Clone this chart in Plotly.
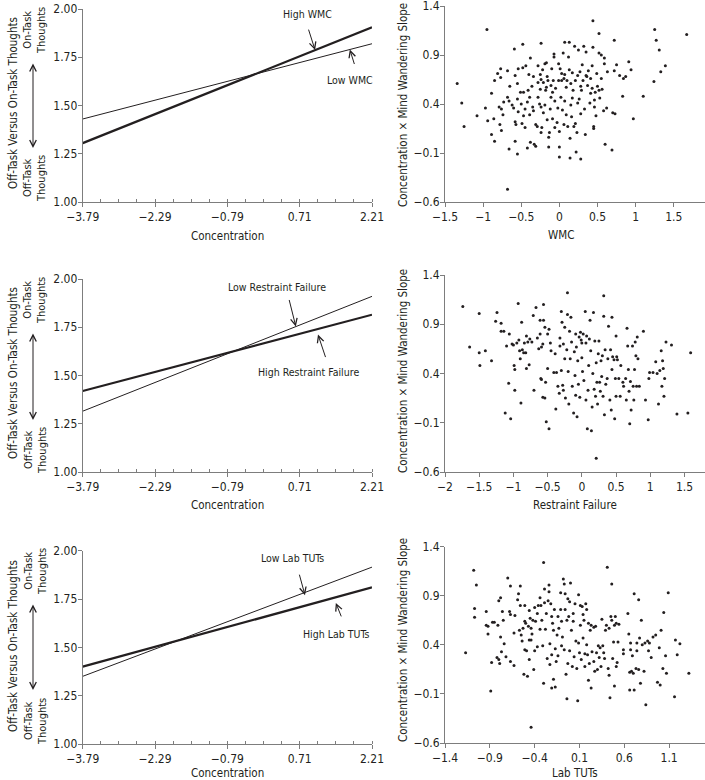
import plotly.graph_objects as go

FONT = "DejaVu Sans Condensed, Liberation Sans, sans-serif"
INK = "#231f20"
AXIS = "#7d7d7d"
W, H = 705, 780

# ---------------- data ----------------
conc_x = [-3.79, 2.21]
conc_ticks = [-3.79, -2.29, -0.79, 0.71, 2.21]
conc_ticktext = ["−3.79", "−2.29", "−0.79", "0.71", "2.21"]
outcome_ticks = [1.00, 1.25, 1.50, 1.75, 2.00]

wmc_high = [1.305, 1.905]
wmc_low = [1.43, 1.82]
rf_low = [1.315, 1.91]
rf_high = [1.42, 1.815]
tut_low = [1.35, 1.915]
tut_high = [1.40, 1.81]

slope_ticks = [-0.6, -0.1, 0.4, 0.9, 1.4]
wmc_ticks = [-1.5, -1, -0.5, 0, 0.5, 1, 1.5]
rf_ticks = [-2, -1.5, -1, -0.5, 0, 0.5, 1, 1.5]
tut_ticks = [-1.4, -0.9, -0.4, 0.1, 0.6, 1.1]

# (predictor, concentration x mind wandering slope) per participant
wmc_points = [
    (-1.34,0.61),(-1.28,0.41),(-1.25,0.17),(-0.95,1.16),(-1.08,0.28),(-0.97,0.36),(-0.94,0.23),(-0.89,0.51),
    (-0.89,0.09),(-0.85,0.64),(-0.86,0.25),(-0.85,0.02),(-0.81,0.71),(-0.79,0.37),(-0.77,0.67),(-0.77,0.76),
    (-0.76,0.35),(-0.78,0.19),(-0.76,0.13),(-0.74,0.29),(-0.73,0.42),(-0.68,0.74),(-0.68,0.47),(-0.66,0.43),
    (-0.66,-0.06),(-0.68,-0.47),(-0.65,0.58),(-0.62,0.39),(-0.60,0.36),(-0.59,0.96),(-0.58,0.69),(-0.58,0.22),
    (-0.57,0.19),(-0.58,0.02),(-0.55,-0.11),(-0.54,0.76),(-0.55,0.61),(-0.55,0.45),(-0.54,0.32),(-0.51,0.52),
    (-0.50,0.40),(-0.49,0.20),(-0.48,1.01),(-0.48,0.77),(-0.47,0.52),(-0.47,0.28),(-0.45,0.35),(-0.45,0.16),
    (-0.44,0.79),(-0.42,-0.05),(-0.41,0.54),(-0.42,0.42),(-0.40,0.70),(-0.39,0.29),(-0.38,0.87),(-0.39,0.47),
    (-0.38,0.01),(-0.36,0.58),(-0.35,0.37),(-0.34,0.33),(-0.34,0.68),(-0.33,-0.01),(-0.31,-0.03),(-0.31,0.19),
    (-0.29,0.17),(-0.28,0.47),(-0.28,0.62),(-0.28,0.79),(-0.26,0.40),(-0.25,0.55),(-0.24,1.02),(-0.25,0.70),
    (-0.24,0.65),(-0.24,0.37),(-0.24,0.11),(-0.23,0.16),(-0.22,0.75),(-0.21,0.62),(-0.21,0.31),(-0.19,0.81),
    (-0.19,0.39),(-0.18,0.54),(-0.17,0.82),(-0.17,0.57),(-0.16,0.68),(-0.16,0.24),(-0.15,0.64),(-0.14,0.06),
    (-0.14,-0.04),(-0.13,0.11),(-0.12,0.35),(-0.11,0.47),(-0.11,0.59),(-0.10,0.76),(-0.09,0.52),(-0.09,0.25),
    (-0.08,0.64),(-0.07,0.91),(-0.07,0.88),(-0.06,0.16),(-0.06,0.43),(-0.05,0.56),(-0.03,0.21),(-0.02,0.36),
    (-0.01,0.81),(-0.01,0.64),(0.00,-0.14),(0.00,-0.04),(0.00,0.12),(0.01,0.76),(0.02,0.47),(0.03,0.71),
    (0.03,0.64),(0.04,0.34),(0.05,0.92),(0.06,0.19),(0.06,0.66),(0.07,1.03),(0.07,0.43),(0.07,0.70),
    (0.09,0.57),(0.09,0.29),(0.10,0.64),(0.11,0.17),(0.12,0.88),(0.13,0.75),(0.13,1.03),(0.14,-0.15),
    (0.14,0.05),(0.15,0.39),(0.15,0.61),(0.16,0.27),(0.17,0.72),(0.17,0.46),(0.18,0.54),(0.19,0.17),
    (0.20,0.99),(0.21,0.64),(0.21,0.20),(0.22,-0.09),(0.23,0.11),(0.24,0.41),(0.24,0.69),(0.25,0.95),
    (0.26,0.45),(0.27,0.73),(0.28,0.58),(0.28,0.30),(0.28,-0.16),(0.29,0.54),(0.30,0.80),(0.31,0.64),
    (0.32,0.99),(0.33,0.35),(0.34,0.09),(0.35,0.93),(0.35,0.69),(0.36,0.68),(0.37,0.59),(0.38,0.74),
    (0.40,0.41),(0.41,0.66),(0.41,0.51),(0.43,0.56),(0.43,0.79),(0.44,0.98),(0.44,1.25),(0.45,0.17),
    (0.45,0.15),(0.46,0.37),(0.46,0.44),(0.47,0.52),(0.48,0.28),(0.49,0.71),(0.50,0.58),(0.52,0.92),
    (0.52,0.54),(0.52,1.12),(0.53,0.46),(0.55,0.90),(0.55,0.66),(0.56,0.55),(0.58,0.33),(0.59,0.87),
    (0.59,0.81),(0.60,-0.01),(0.62,0.36),(0.63,0.73),(0.69,-0.07),(0.70,0.31),(0.72,0.74),(0.72,1.05),
    (0.73,0.30),(0.75,0.80),(0.79,0.69),(0.83,0.48),(0.84,0.66),(0.87,0.68),(0.91,0.83),(0.94,0.75),
    (0.97,0.25),(1.10,0.48),(1.24,0.63),(1.25,1.16),(1.27,1.05),(1.31,0.95),(1.33,0.73),(1.39,0.79),
    (1.67,1.11),
]

rf_points = [
    (-1.74,1.08),(-1.64,0.67),(-1.50,1.01),(-1.50,0.61),(-1.49,0.48),(-1.41,0.63),(-1.32,0.53),(-1.26,0.93),
    (-1.24,1.02),(-1.18,0.91),(-1.18,0.83),(-1.14,0.83),(-1.12,0.00),(-1.10,0.68),(-1.07,0.30),(-1.06,0.80),
    (-1.04,-0.06),(-1.02,0.70),(-1.00,0.69),(-0.99,0.48),(-0.98,0.44),(-0.98,0.23),(-0.95,0.71),(-0.93,1.11),
    (-0.92,0.74),(-0.91,0.63),(-0.90,0.55),(-0.89,0.10),(-0.88,0.92),(-0.87,0.64),(-0.85,0.61),(-0.84,0.71),
    (-0.82,0.61),(-0.81,0.78),(-0.81,0.45),(-0.79,0.72),(-0.77,0.49),(-0.76,0.75),(-0.73,0.72),(-0.71,0.99),
    (-0.70,0.23),(-0.67,1.07),(-0.65,0.76),(-0.63,0.65),(-0.61,0.80),(-0.61,0.94),(-0.60,0.35),(-0.59,0.67),
    (-0.59,0.34),(-0.57,0.16),(-0.57,0.70),(-0.56,1.10),(-0.56,0.94),(-0.54,0.87),(-0.54,0.15),(-0.53,0.31),
    (-0.52,-0.09),(-0.50,0.80),(-0.50,0.45),(-0.48,-0.16),(-0.48,0.85),(-0.46,0.71),(-0.45,0.63),(-0.41,0.41),
    (-0.39,0.60),(-0.38,0.04),(-0.37,0.41),(-0.35,0.27),(-0.33,0.20),(-0.32,0.76),(-0.32,0.68),(-0.30,1.03),
    (-0.30,0.43),(-0.29,0.92),(-0.28,0.28),(-0.27,0.70),(-0.27,0.23),(-0.25,0.87),(-0.25,0.55),(-0.24,0.15),
    (-0.22,0.64),(-0.21,1.00),(-0.21,1.22),(-0.20,0.42),(-0.19,0.09),(-0.18,0.83),(-0.17,0.55),(-0.16,0.97),
    (-0.15,0.72),(-0.14,0.27),(-0.12,0.00),(-0.11,0.62),(-0.10,0.38),(-0.09,0.80),(-0.09,0.18),(-0.08,0.67),
    (-0.07,-0.04),(-0.06,0.53),(-0.05,0.29),(-0.04,0.77),(-0.03,0.16),(-0.02,0.82),(-0.01,0.74),(0.00,0.56),
    (0.00,0.71),(0.01,0.42),(0.02,0.80),(0.03,0.33),(0.05,1.03),(0.06,0.71),(0.06,0.13),(0.07,0.78),
    (0.08,-0.16),(0.09,0.23),(0.10,0.48),(0.11,0.75),(0.12,0.94),(0.13,0.63),(0.14,-0.18),(0.15,0.06),
    (0.16,0.40),(0.17,1.02),(0.18,0.24),(0.19,0.73),(0.20,0.17),(0.21,-0.46),(0.21,0.51),(0.22,0.31),
    (0.23,0.09),(0.24,0.60),(0.25,0.73),(0.26,0.31),(0.27,0.22),(0.28,0.53),(0.29,0.37),(0.30,0.58),
    (0.31,0.17),(0.32,0.98),(0.32,1.19),(0.33,-0.02),(0.34,0.64),(0.35,0.29),(0.37,0.35),(0.38,0.55),
    (0.39,0.88),(0.41,0.13),(0.42,0.64),(0.43,0.03),(0.44,0.97),(0.44,0.44),(0.45,0.57),(0.47,0.54),
    (0.48,-0.06),(0.49,0.35),(0.50,0.78),(0.50,0.17),(0.51,0.57),(0.52,0.54),(0.54,0.35),(0.56,0.17),
    (0.57,0.48),(0.60,0.31),(0.61,0.27),(0.64,0.35),(0.65,0.13),(0.66,0.86),(0.67,0.68),(0.68,0.44),
    (0.69,0.22),(0.70,-0.11),(0.71,0.32),(0.72,0.03),(0.74,0.68),(0.75,0.27),(0.76,0.13),(0.77,0.44),
    (0.78,0.72),(0.79,0.58),(0.80,0.27),(0.81,0.77),(0.82,0.55),(0.84,0.27),(0.90,0.83),(0.93,0.13),
    (0.97,-0.07),(0.98,0.35),(0.99,0.41),(1.04,0.41),(1.08,0.52),(1.10,0.40),(1.12,0.09),(1.14,0.43),
    (1.16,0.63),(1.17,0.27),(1.18,0.53),(1.19,0.45),(1.20,0.17),(1.21,0.35),(1.23,0.72),(1.31,0.69),
    (1.39,-0.01),(1.55,0.00),(1.59,0.61),
]

tut_points = [
    (-1.17,0.32),(-1.08,1.16),(-1.07,0.77),(-1.07,0.68),(-1.05,1.01),(-0.94,0.74),(-0.94,0.60),(-0.92,0.59),
    (-0.92,0.51),(-0.89,-0.07),(-0.88,0.22),(-0.87,0.63),(-0.85,0.63),(-0.82,0.27),(-0.81,0.60),(-0.80,0.85),
    (-0.80,0.25),(-0.79,0.21),(-0.78,0.88),(-0.78,0.48),(-0.77,0.33),(-0.76,0.74),(-0.75,0.65),(-0.74,0.41),
    (-0.72,0.28),(-0.70,1.08),(-0.68,0.74),(-0.67,1.00),(-0.67,0.71),(-0.67,0.23),(-0.63,0.19),(-0.63,0.52),
    (-0.62,0.70),(-0.59,0.86),(-0.58,0.92),(-0.57,0.55),(-0.56,1.00),(-0.56,0.80),(-0.55,0.50),(-0.54,0.44),
    (-0.53,0.57),(-0.52,0.10),(-0.51,0.64),(-0.51,0.35),(-0.51,0.80),(-0.50,0.62),(-0.49,0.34),(-0.48,0.08),
    (-0.47,0.59),(-0.46,0.75),(-0.46,0.45),(-0.46,0.25),(-0.45,0.67),(-0.44,0.57),(-0.44,-0.44),(-0.44,0.45),
    (-0.43,0.51),(-0.42,0.65),(-0.41,0.15),(-0.40,0.78),(-0.40,0.34),(-0.39,0.64),(-0.37,0.72),(-0.37,0.38),
    (-0.36,0.80),(-0.34,0.88),(-0.34,0.56),(-0.33,0.80),(-0.32,0.65),(-0.31,0.39),(-0.30,0.01),(-0.30,1.24),
    (-0.29,0.83),(-0.29,0.97),(-0.28,0.56),(-0.27,0.72),(-0.26,0.26),(-0.25,0.85),(-0.24,0.94),(-0.24,1.01),
    (-0.23,0.41),(-0.23,0.20),(-0.22,0.82),(-0.21,-0.04),(-0.21,0.69),(-0.21,0.30),(-0.20,0.62),(-0.19,0.05),
    (-0.19,0.55),(-0.18,0.76),(-0.17,-0.03),(-0.17,0.36),(-0.16,0.23),(-0.15,0.50),(-0.14,0.69),(-0.14,0.29),
    (-0.13,0.57),(-0.11,0.93),(-0.11,0.76),(-0.10,0.39),(-0.10,0.64),(-0.09,0.48),(-0.08,1.07),(-0.07,1.02),
    (-0.07,0.35),(-0.06,0.92),(-0.06,0.76),(-0.05,0.10),(-0.04,0.65),(-0.04,-0.15),(-0.03,0.87),(-0.03,0.21),
    (-0.02,0.69),(-0.01,0.34),(-0.01,0.84),(0.00,1.03),(0.01,0.55),(0.02,0.18),(0.03,0.72),(0.03,0.64),
    (0.04,0.28),(0.05,0.82),(0.06,0.44),(0.07,0.16),(0.08,-0.17),(0.09,0.91),(0.09,0.42),(0.10,0.32),
    (0.11,0.80),(0.11,0.60),(0.12,0.25),(0.13,0.79),(0.14,0.71),(0.14,0.47),(0.15,0.65),(0.16,0.31),
    (0.16,0.18),(0.17,0.82),(0.18,0.76),(0.18,0.40),(0.19,0.30),(0.20,0.04),(0.20,0.62),(0.21,0.21),
    (0.22,0.55),(0.23,-0.04),(0.23,0.60),(0.24,0.33),(0.26,0.23),(0.26,0.58),(0.27,0.13),(0.28,0.59),
    (0.29,0.32),(0.30,0.15),(0.31,0.39),(0.32,0.27),(0.33,0.37),(0.34,0.18),(0.35,0.66),(0.36,0.39),
    (0.37,0.32),(0.38,0.26),(0.39,0.55),(0.40,0.60),(0.41,1.19),(0.42,0.16),(0.43,0.57),(0.43,0.09),
    (0.44,-0.14),(0.45,0.69),(0.46,1.02),(0.46,0.65),(0.47,0.26),(0.48,0.43),(0.49,0.60),(0.49,-0.02),
    (0.50,0.69),(0.51,0.18),(0.51,0.62),(0.52,0.22),(0.53,0.43),(0.54,0.61),(0.59,0.35),(0.59,0.31),
    (0.64,0.72),(0.65,0.51),(0.66,0.12),(0.66,-0.06),(0.67,0.35),(0.67,0.42),(0.68,0.13),(0.69,0.29),
    (0.70,0.11),(0.71,-0.06),(0.71,0.92),(0.73,0.16),(0.74,0.42),(0.74,0.34),(0.76,0.86),(0.76,0.15),
    (0.77,0.47),(0.78,0.01),(0.79,0.65),(0.80,0.40),(0.82,0.13),(0.83,0.42),(0.84,-0.21),(0.86,0.44),
    (0.87,0.34),(0.88,0.42),(0.90,0.27),(0.92,0.48),(0.95,0.50),(0.97,0.02),(0.99,0.37),(1.00,-0.01),
    (1.01,0.55),(1.03,0.16),(1.04,0.73),(1.06,0.29),(1.07,0.11),(1.09,0.93),(1.16,-0.13),(1.17,0.45),
    (1.19,0.30),(1.22,0.41),(1.32,0.11),
]

# ---------------- layout helpers ----------------
def xd(a, b):
    return [a / W, b / W]

def yd(top, bottom):
    return [1 - bottom / H, 1 - top / H]

def px(p):
    return p / W

def py(p):
    return 1 - p / H

tickfont = dict(family=FONT, size=12, color=INK)
common = dict(showline=True, linecolor=AXIS, linewidth=1, ticks="outside", ticklen=4, tickcolor=AXIS,
              tickwidth=1, showgrid=False, zeroline=False, tickfont=tickfont, automargin=False,
              fixedrange=True, ticklabeloverflow="allow")

def left_axes(ydom):
    xa = dict(domain=xd(82.7, 372), range=[-3.79, 2.21], tickvals=conc_ticks, ticktext=conc_ticktext,
              minor=dict(ticks="inside", dtick=0.375, tick0=-3.79, ticklen=3, tickcolor=AXIS), **common)
    ya = dict(domain=ydom, range=[1.0, 2.0], tickvals=outcome_ticks, tickformat=".2f",
              ticklabelstandoff=-2, **common)
    return xa, ya

def right_axes(ydom, xr, xt):
    xa = dict(domain=xd(445, 705), range=xr, tickvals=xt, **common)
    ya = dict(domain=ydom, range=[-0.6, 1.4], tickvals=slope_ticks, ticklabelstandoff=-2, **common)
    return xa, ya

fig = go.Figure()

def add_lines(axn, thin, thick):
    ref = "" if axn == 1 else str(axn)
    fig.add_trace(go.Scatter(x=conc_x, y=thin, mode="lines", line=dict(color=INK, width=1),
                             xaxis="x" + ref, yaxis="y" + ref, showlegend=False))
    fig.add_trace(go.Scatter(x=conc_x, y=thick, mode="lines", line=dict(color=INK, width=2.2),
                             xaxis="x" + ref, yaxis="y" + ref, showlegend=False))

def add_points(axn, pts):
    ref = str(axn)
    fig.add_trace(go.Scatter(x=[p[0] for p in pts], y=[p[1] for p in pts], mode="markers",
                             marker=dict(color=INK, size=3, line=dict(width=0)),
                             xaxis="x" + ref, yaxis="y" + ref, showlegend=False))

add_lines(1, wmc_low, wmc_high)
add_points(2, wmc_points)
add_lines(3, rf_low, rf_high)
add_points(4, rf_points)
add_lines(5, tut_low, tut_high)
add_points(6, tut_points)

xa1, ya1 = left_axes(yd(9, 202))
xa2, ya2 = right_axes(yd(6, 202), [-1.5, 1.91], wmc_ticks)
xa3, ya3 = left_axes(yd(279, 472))
xa4, ya4 = right_axes(yd(275, 472), [-2, 1.80], rf_ticks)
xa5, ya5 = left_axes(yd(550.7, 744))
xa6, ya6 = right_axes(yd(546.7, 743), [-1.4, 1.5], tut_ticks)

ann = []

def text(xp, yp, t, size=12, angle=0):
    ann.append(dict(x=px(xp), y=py(yp), xref="paper", yref="paper", text=t, showarrow=False,
                    textangle=angle, font=dict(family=FONT, size=size, color=INK),
                    xanchor="center", yanchor="middle"))

def arrow(axn, x, y, dx, dy):
    s = "" if axn == 1 else str(axn)
    ann.append(dict(x=x, y=y, xref="x" + s, yref="y" + s, ax=dx, ay=dy, text="", showarrow=True,
                    arrowhead=5, arrowsize=1.3, arrowwidth=1, arrowcolor=INK))

def double_arrow(xp, ytop, ybot):
    ann.append(dict(x=px(xp), y=py(ybot), xref="paper", yref="paper", ax=0, ay=ytop - ybot, text="",
                    showarrow=True, arrowhead=5, startarrowhead=5, arrowside="end+start",
                    arrowsize=1.3, startarrowsize=1.3, arrowwidth=1, arrowcolor=INK))

# left column y labels
for (mid, on_c, a_top, a_bot, off_c) in [(103, 31, 62, 148, 179), (373, 301, 332, 420, 451),
                                         (646, 572, 603, 690, 722)]:
    text(13, mid, "Off-Task Versus On-Task Thoughts", 11.5, -90)
    text(35, on_c, "On-Task<br>Thoughts", 11, -90)
    text(35, off_c, "Off-Task<br>Thoughts", 11, -90)
    double_arrow(33, a_top, a_bot)

# x titles
text(227, 236, "Concentration", 11.5)
text(227, 505, "Concentration", 11.5)
text(227, 773, "Concentration", 11.5)
text(561, 235, "WMC", 11.5)
text(575, 505, "Restraint Failure", 11.5)
text(575, 773, "Lab TUTs", 11.5)

# right column y titles
text(403, 105, "Concentration × Mind Wandering Slope", 11.5, -90)
text(403, 371, "Concentration × Mind Wandering Slope", 11.5, -90)
text(403, 640, "Concentration × Mind Wandering Slope", 11.5, -90)

# line labels
text(307, 14, "High WMC", 10.5)
arrow(1, 1.03, 1.787, -7, -22)
text(350, 80, "Low WMC", 10.5)
arrow(1, 1.75, 1.79, 5, 16)

text(277, 287, "Low Restraint Failure", 10.5)
arrow(3, 0.63, 1.754, -7, -28)
text(308, 372, "High Restraint Failure", 10.5)
arrow(3, 1.09, 1.712, 8, 24)

text(292, 558, "Low Lab TUTs", 10.5)
arrow(5, 0.82, 1.77, -6, -22)
text(336, 634, "High Lab TUTs", 10.5)
arrow(5, 1.46, 1.73, 6, 15)

fig.update_layout(template="none", width=W, height=H, margin=dict(l=0, r=0, t=0, b=0, autoexpand=False),
                  plot_bgcolor="white", paper_bgcolor="white", showlegend=False, annotations=ann,
                  font=dict(family=FONT, color=INK),
                  xaxis=dict(anchor="y", **xa1), yaxis=dict(anchor="x", **ya1),
                  xaxis2=dict(anchor="y2", **xa2), yaxis2=dict(anchor="x2", **ya2),
                  xaxis3=dict(anchor="y3", **xa3), yaxis3=dict(anchor="x3", **ya3),
                  xaxis4=dict(anchor="y4", **xa4), yaxis4=dict(anchor="x4", **ya4),
                  xaxis5=dict(anchor="y5", **xa5), yaxis5=dict(anchor="x5", **ya5),
                  xaxis6=dict(anchor="y6", **xa6), yaxis6=dict(anchor="x6", **ya6))

fig.write_html("out.html", config={"displayModeBar": False},
               post_script="document.body.style.margin='0';document.body.style.overflow='hidden';")
